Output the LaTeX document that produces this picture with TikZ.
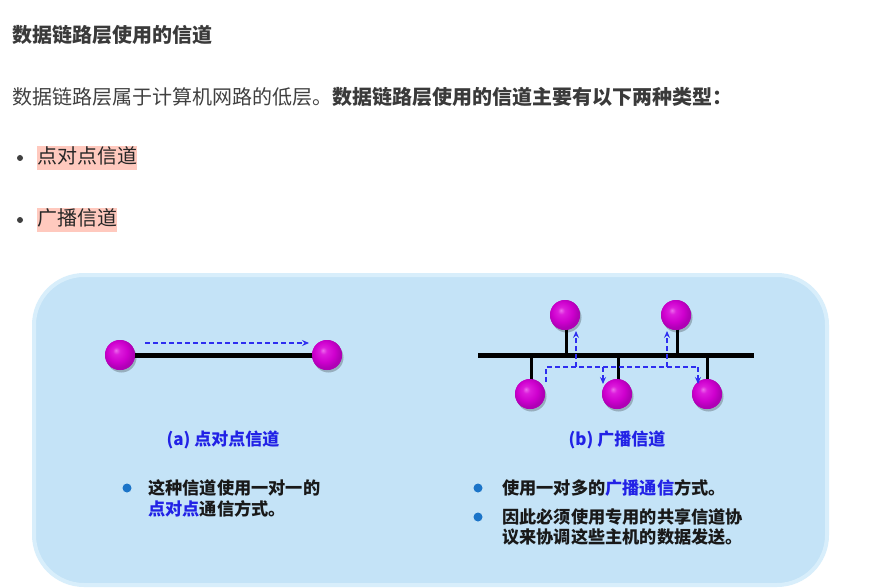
\documentclass[tikz,border=0pt]{standalone}
\usepackage{fontspec}
\setmainfont{Noto Sans CJK SC}
\usetikzlibrary{arrows.meta}
\definecolor{txtdark}{HTML}{3A3A3A}
\definecolor{txtreg}{HTML}{404040}
\definecolor{hl}{HTML}{FFC9BE}
\definecolor{panelfill}{HTML}{C4E3F7}
\definecolor{paneledge}{HTML}{D8EEFB}
\definecolor{capblue}{HTML}{2222E6}
\definecolor{dashblue}{HTML}{2E2EF0}
\definecolor{dotblue}{HTML}{1B74C8}
\definecolor{ballhi}{HTML}{EC6CEC}
\definecolor{ballmid}{HTML}{DC1CDC}
\definecolor{ballmain}{HTML}{CE00CE}
\definecolor{balledge}{HTML}{B000B6}
\pgfdeclareradialshading{sph}{\pgfpoint{-7bp}{8bp}}{color(0bp)=(ballhi); color(6bp)=(ballmid); color(17bp)=(ballmain); color(25bp)=(balledge); color(50bp)=(balledge)}
\tikzset{
  topfont/.style={font=\fontsize{20}{24}\selectfont},
  ball/.style={circle, minimum size=30, inner sep=0, shading=sph,
    preaction={fill=black, opacity=0.12, transform canvas={shift={(1.5pt,-2.5pt)}}}},
  wire/.style={line width=5, black},
  stem/.style={line width=3, black},
  dasharrow/.style={dashblue, line width=1.1, dash pattern=on 5pt off 3pt,
    -{Stealth[length=7pt,width=6pt,inset=2.5pt]}},
  dashline/.style={dashblue, line width=1.1, dash pattern=on 5pt off 3pt},
  ptext/.style={anchor=west, inner sep=0, font=\bfseries\fontsize{17.2}{21}\selectfont, text=black!90},
  caption/.style={inner sep=0, font=\bfseries\fontsize{17}{21}\selectfont, text=capblue},
  bdot/.style={circle, fill=dotblue, minimum size=9, inner sep=0},
  ldot/.style={circle, fill=txtreg, minimum size=6, inner sep=0},
}
\begin{document}
\begin{tikzpicture}[x=1pt,y=-1pt]
\useasboundingbox (0,0) rectangle (874,588);
\fill[white] (0,0) rectangle (874,588);

% header text
\node[anchor=west, inner sep=0, font=\bfseries\fontsize{20}{24}\selectfont, text=txtdark] (title) at (12,35) {数据链路层使用的信道};
\node[anchor=west, inner sep=0, topfont, text=txtreg] (intro) at (12,97) {数据链路层属于计算机网路的低层。\textbf{\color{txtdark}数据链路层使用的信道主要有以下两种类型：}};
\node[ldot] (l1) at (20,158) {};
\node[anchor=west, fill=hl, inner xsep=0, inner ysep=2.5, text height=15, text depth=4, topfont, text=black!85] (item1) at (37,158) {点对点信道};
\node[ldot] (l2) at (20,220) {};
\node[anchor=west, fill=hl, inner xsep=0, inner ysep=2.5, text height=15, text depth=4, topfont, text=black!85] (item2) at (37,220) {广播信道};

% panel
\draw[draw=paneledge, line width=4, fill=panelfill, rounded corners=50] (34,275) rectangle (827,585);

% (a) point-to-point
\node[ball] (pa) at (120,355) {};
\node[ball] (pb) at (327,355) {};
\draw[wire] (pa.center) -- (pb.center);
\node[ball] at (pa) {};
\node[ball] at (pb) {};
\coordinate (as) at (145,343);
\coordinate (ae) at (309,343);
\draw[dasharrow] (as) -- (ae);
\node[caption] (capa) at (223,440) {(a) 点对点信道};
\node[bdot] (da) at (127,488) {};
\node[ptext] (ta1) at (148,488) {这种信道使用一对一的};
\node[ptext] (ta2) at (148,509) {\textcolor{capblue}{点对点}通信方式。};

% (b) broadcast
\coordinate (busL) at (478,355);
\coordinate (busR) at (754,355);
\coordinate (s1) at (531,355);
\coordinate (s2) at (566,355);
\coordinate (s3) at (618,355);
\coordinate (s4) at (677,355);
\coordinate (s5) at (707,355);
\node[ball] (t1) at (565,315) {};
\node[ball] (t2) at (676,315) {};
\node[ball] (b1) at (530,394) {};
\node[ball] (b2) at (617,394) {};
\node[ball] (b3) at (707,394) {};
\draw[stem] (s1) -- (s1 |- b1.center);
\draw[stem] (s2) -- (s2 |- t1.center);
\draw[stem] (s3) -- (s3 |- b2.center);
\draw[stem] (s4) -- (s4 |- t2.center);
\draw[stem] (s5) -- (s5 |- b3.center);
\draw[wire] (busL) -- (busR);
\node[ball] at (t1) {};
\node[ball] at (t2) {};
\node[ball] at (b1) {};
\node[ball] at (b2) {};
\node[ball] at (b3) {};
% dashed signal paths
\coordinate (d0) at (546,382);
\coordinate (d1) at (546,367);
\coordinate (d2) at (698,367);
\coordinate (u1) at (576,367);
\coordinate (u1e) at (576,331);
\coordinate (n1) at (603,367);
\coordinate (n1e) at (603,384);
\coordinate (u2) at (667,367);
\coordinate (u2e) at (667,331);
\coordinate (n2e) at (698,384);
\draw[dashline] (d0) -- (d1) -- (d2);
\draw[dasharrow] (u1) -- (u1e);
\draw[dasharrow] (n1) -- (n1e);
\draw[dasharrow] (u2) -- (u2e);
\draw[dasharrow] (d2) -- (n2e);
\node[caption] (capb) at (617,440) {(b) 广播信道};
\node[bdot] (db1) at (478,488) {};
\node[ptext] (tb1) at (502,488) {使用一对多的\textcolor{capblue}{广播通信}方式。};
\node[bdot] (db2) at (478,517) {};
\node[ptext] (tb2) at (502,517) {因此必须使用专用的共享信道协};
\node[ptext] (tb3) at (502,537) {议来协调这些主机的数据发送。};
\end{tikzpicture}
\end{document}
